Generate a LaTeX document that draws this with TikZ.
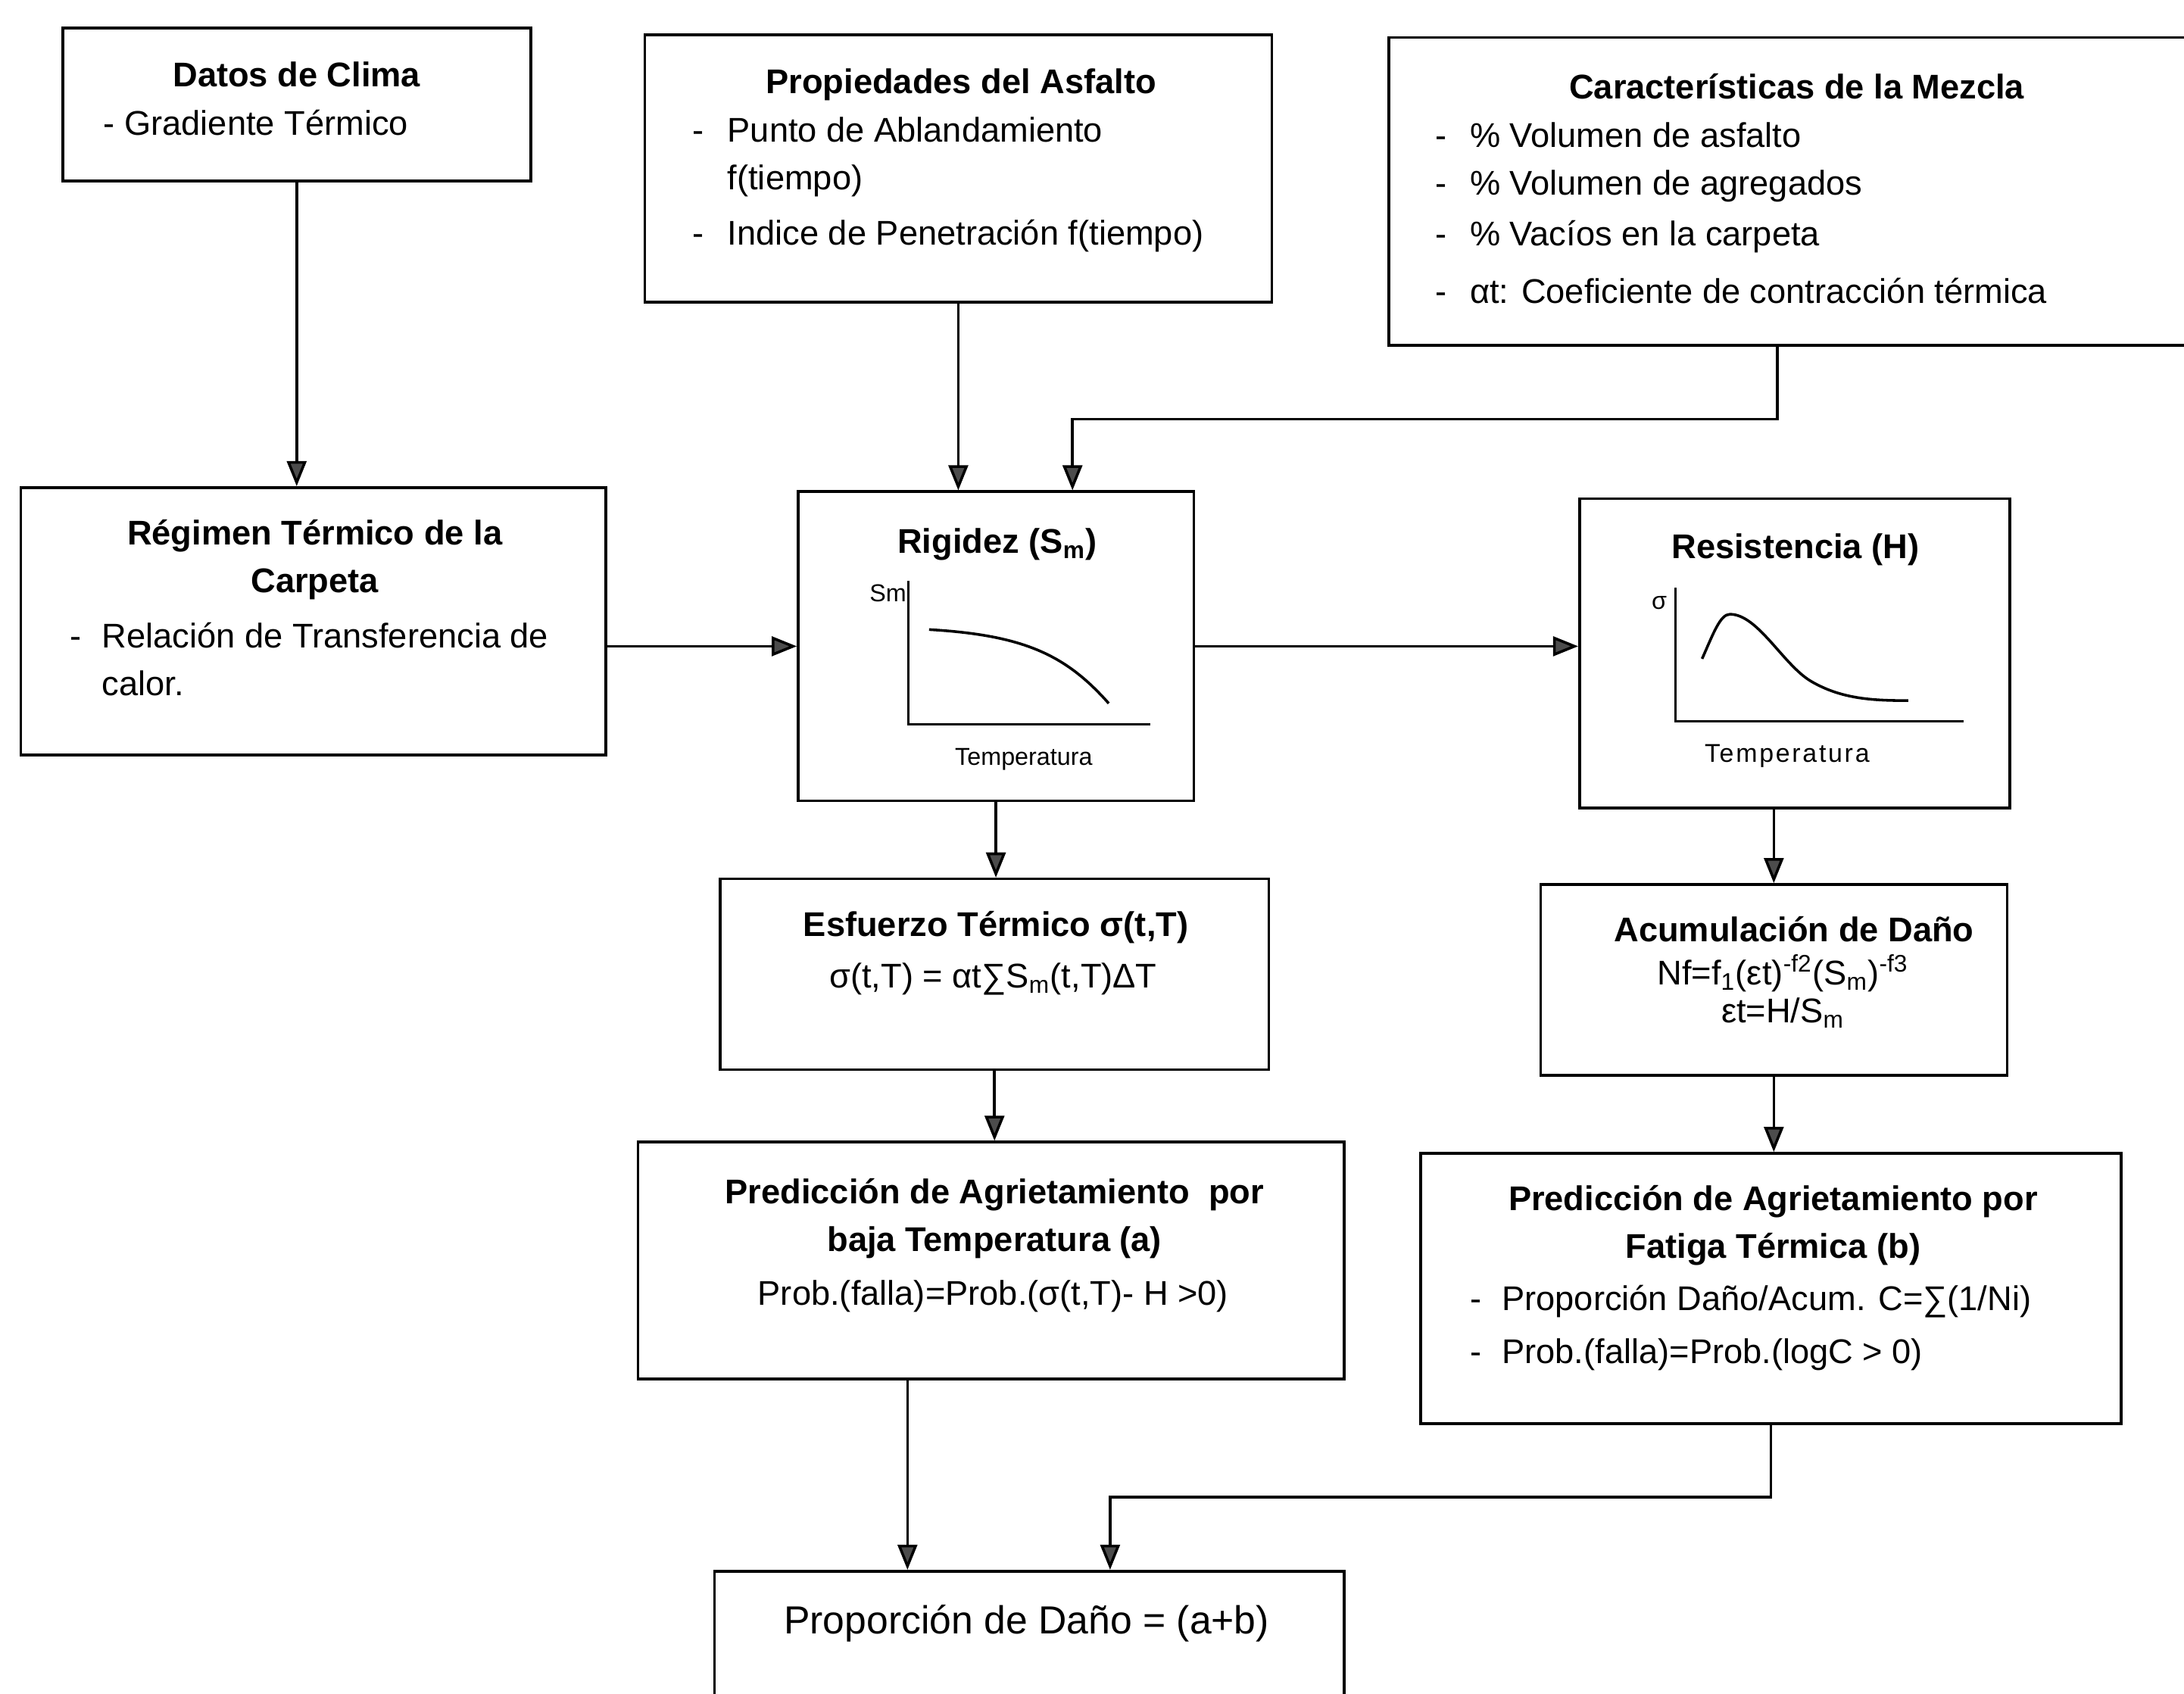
\documentclass[tikz,border=0pt]{standalone}
\usepackage{fontspec}
\setmainfont{Liberation Sans}
\usetikzlibrary{arrows.meta,fit,positioning}

\begin{document}
\begin{tikzpicture}[x=0.02cm, y=-0.02cm,
    caja/.style={draw, line width=1.1pt, inner sep=0pt, fit={#1}},
    flecha/.style={line width=1.1pt, -{Triangle[width=2.8mm, length=3.6mm, fill=black!70]}},
    titulo/.style={font=\fontsize{14}{19.5}\selectfont\bfseries, inner sep=0pt, anchor=base},
    texto/.style={font=\fontsize{14}{19.5}\selectfont, inner sep=0pt, anchor=base},
    lista/.style={font=\fontsize{14}{19.5}\selectfont, inner sep=0pt, anchor=base west},
    eje/.style={line width=1pt},
    chico/.style={font=\fontsize{10}{12}\selectfont, inner sep=0pt}]
    \path[use as bounding box, fill=white] (0,0) rectangle (1568,1216);

    % Cajas
    \node[caja={(45,20) (381,130)}] (datos) {};
    \node[caja={(463,25) (913,217)}] (propied) {};
    \node[caja={(997,27) (1580,248)}] (carac) {};
    \node[caja={(15,350) (435,542)}] (regimen) {};
    \node[caja={(573,353) (857,575)}] (rigidez) {};
    \node[caja={(1134,358) (1443,580)}] (resist) {};
    \node[caja={(517,631) (911,768)}] (esfuerzo) {};
    \node[caja={(1106,635) (1441,772)}] (acum) {};
    \node[caja={(458,820) (965,990)}] (preda) {};
    \node[caja={(1020,828) (1523,1022)}] (predb) {};
    \node[caja={(513,1128) (965,1240)}] (proporcion) {};

    % Datos de clima
    \node[titulo] (tdatos) at (213,62) {Datos de Clima};
    \node[lista] (ldatos) at (74,97) {- Gradiente Térmico};

    % Propiedades del asfalto
    \node[titulo] (tpropied) at (690,67) {Propiedades del Asfalto};
    \node[lista] (lpropied) at (497,102) {\begin{tabular}[t]{@{}p{5mm}@{}l@{}}
        - & Punto de Ablandamiento\\
          & f(tiempo)\\[3pt]
        - & Indice de Penetración f(tiempo)
    \end{tabular}};

    % Mezcla
    \node[titulo] (tcarac) at (1290,71) {Características de la Mezcla};
    \node[lista] (lcarac) at (1030,106) {\begin{tabular}[t]{@{}p{5mm}@{}l@{}}
        - & \% Volumen de asfalto\\
        - & \% Volumen de agregados\\[1pt]
        - & \% Vacíos en la carpeta\\[4pt]
        - & αt: Coeficiente de contracción térmica
    \end{tabular}};

    % Regimen termico
    \node[titulo] (tregimen) at (226,391) {\begin{tabular}[t]{@{}c@{}}Régimen Térmico de la\\Carpeta\end{tabular}};
    \node[lista] (lregimen) at (50,465) {\begin{tabular}[t]{@{}p{4.6mm}@{}l@{}}
        - & Relación de Transferencia de\\
          & calor.
    \end{tabular}};

    % Rigidez
    \node[titulo] (trigidez) at (716,397) {Rigidez (S\textsubscript{m})};
    \draw[eje] (652,417) -- (652,520) -- (826,520);
    \draw[line width=1.1pt] (667,452) .. controls (735,456) and (765,470) .. (796,505);
    \node[chico, anchor=east] (lsm) at (651,426) {Sm};
    \node[chico] (ltemp1) at (735,545) {Temperatura};

    % Resistencia
    \node[titulo] (tresist) at (1289,401) {Resistencia (H)};
    \draw[eje] (1203,422) -- (1203,518) -- (1410,518);
    \draw[line width=1.1pt] (1222,473) .. controls (1230,455) and (1235,441) .. (1242,441)
        .. controls (1262,441) and (1280,477) .. (1300,489)
        .. controls (1322,502) and (1345,503) .. (1370,503);
    \node[chico, anchor=east] (lsigma) at (1197,433) {σ};
    \node[chico, font=\fontsize{10.5}{12}\selectfont\addfontfeature{LetterSpace=8}] (ltemp2) at (1283,543) {Temperatura};

    % Esfuerzo termico
    \node[titulo] (tesfuerzo) at (715,672) {Esfuerzo Térmico σ(t,T)};
    \node[texto] (fesfuerzo) at (713,709) {σ(t,T) = αt∑S\textsubscript{m}(t,T)ΔT};

    % Acumulacion
    \node[titulo] (tacum) at (1288,676) {Acumulación de Daño};
    \node[texto] (facum) at (1280,707) {\begin{tabular}[t]{@{}c@{}}Nf=f\textsubscript{1}(εt)\textsuperscript{-f2}(S\textsubscript{m})\textsuperscript{-f3}\\[-4pt]
        εt=H/S\textsubscript{m}\end{tabular}};

    % Prediccion (a)
    \node[titulo] (tpreda) at (714,864) {\begin{tabular}[t]{@{}c@{}}Predicción de Agrietamiento\ \ por\\baja Temperatura (a)\end{tabular}};
    \node[texto] (fpreda) at (713,937) {Prob.(falla)=Prob.(σ(t,T)- H >0)};

    % Prediccion (b)
    \node[titulo] (tpredb) at (1273,869) {\begin{tabular}[t]{@{}c@{}}Predicción de Agrietamiento por\\Fatiga Térmica (b)\end{tabular}};
    \node[lista] (lpredb) at (1055,941) {\begin{tabular}[t]{@{}p{4.6mm}@{}l@{}}
        - & Proporción Daño/Acum. C=∑(1/Ni)\\[2pt]
        - & Prob.(falla)=Prob.(logC > 0)
    \end{tabular}};

    % Proporcion de dano
    \node[texto, font=\fontsize{16}{19}\selectfont] (tproporcion) at (737,1173) {Proporción de Daño = (a+b)};

    % Conectores
    \draw[flecha] (datos.south) -- (datos.south |- regimen.north);
    \draw[flecha] (propied.south) -- (propied.south |- rigidez.north);
    \coordinate (codo1) at ([xshift=-0.25cm, yshift=-1.04cm]carac.south);
    \coordinate (entrada1) at ([xshift=1.1cm]rigidez.north);
    \draw[flecha] (codo1 |- carac.south) -- (codo1) -| (entrada1);
    \draw[flecha] (rigidez.west -| regimen.east) -- (rigidez.west);
    \draw[flecha] (rigidez.east) -- (rigidez.east -| resist.west);
    \draw[flecha] (rigidez.south) -- (rigidez.south |- esfuerzo.north);
    \draw[flecha] (acum.north |- resist.south) -- (acum.north);
    \draw[flecha] (esfuerzo.south) -- (esfuerzo.south |- preda.north);
    \draw[flecha] (acum.south) -- (acum.south |- predb.north);
    \coordinate (salida1) at ([xshift=-1.2cm]preda.south);
    \draw[flecha] (salida1) -- (salida1 |- proporcion.north);
    \coordinate (codo2) at ([yshift=-1.04cm]predb.south);
    \coordinate (entrada2) at ([xshift=1.16cm]proporcion.north);
    \draw[flecha] (predb.south) -- (codo2) -| (entrada2);
\end{tikzpicture}
\end{document}
